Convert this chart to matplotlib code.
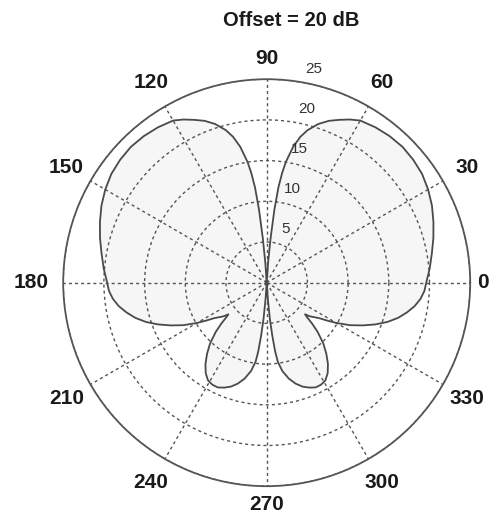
import numpy as np
import matplotlib
matplotlib.use("Agg")
import matplotlib.pyplot as plt

plt.rcParams['font.family'] = ['Liberation Sans', 'DejaVu Sans']

# Right half of the pattern (angles in degrees, -90..90), values in dB + offset
half_angles = [-90, -87, -86, -85, -84, -83, -82, -80, -77, -74, -71, -68, -65,
               -62, -59, -56, -53, -50, -47, -44, -42, -40.5, -39.5, -38, -36,
               -34, -32, -30, -27, -24, -21, -18, -15, -12, -9, -6, -3, 0, 5,
               10, 15, 20, 25, 30, 35, 40, 45, 50, 55, 60, 63, 66, 69, 72, 75,
               77, 79, 81, 82, 83, 84, 85, 86, 87, 90]
half_values = [0, 0, 2.0, 4.5, 6.5, 8.5, 9.8, 11.0, 12.1, 12.9, 13.5, 13.9, 14.2,
               14.2, 14.0, 13.4, 12.5, 11.4, 10.2, 8.7, 7.5, 6.5, 6.1, 6.7, 7.2,
               7.8, 8.8, 9.9, 11.5, 12.9, 14.3, 15.6, 16.7, 17.6, 18.4, 19.0, 19.4,
               19.6, 20.1, 20.6, 21.2, 21.8, 22.4, 22.9, 23.3, 23.5, 23.6, 23.5,
               23.3, 23.0, 22.5, 21.9, 21.3, 20.5, 19.4, 18.4, 17.0, 15.0, 13.6,
               11.8, 9.0, 5.5, 2.5, 0, 0]

angle_labels = ['0', '30', '60', '90', '120', '150', '180', '210', '240', '270', '300', '330']
angle_ticks = [0, 30, 60, 90, 120, 150, 180, 210, 240, 270, 300, 330]
radial_ticks = [5, 10, 15, 20, 25]
title_text = 'Offset = 20 dB'

# full closed curve: right half then mirrored left half
ha = np.array(half_angles, dtype=float)
hv = np.array(half_values, dtype=float)
theta_deg = np.concatenate([ha, 180 - ha[::-1]])
rvals = np.concatenate([hv, hv[::-1]])
theta = np.deg2rad(theta_deg)

W, H = 496, 516
fig = plt.figure(figsize=(W / 100, H / 100), dpi=100)
cx, cy, R = 266.7, 282.7, 203.5
ax = fig.add_axes([(cx - R) / W, (H - cy - R) / H, 2 * R / W, 2 * R / H],
                  projection='polar')
ax.set_ylim(0, 25)

gcol = '#555555'
ax.fill(theta, rvals, color='#f6f6f6', zorder=1)
ax.plot(theta, rvals, color='#4a4a4a', lw=1.3, zorder=3)

# grids
ax.set_thetagrids(angle_ticks, labels=[''] * len(angle_ticks))
ax.set_rgrids([5, 10, 15, 20, 25], labels=[''] * 5)
ax.grid(True, color=gcol, linestyle=(0, (2.2, 2.2)), linewidth=1.0)
ax.spines['polar'].set_color('#555555')
ax.spines['polar'].set_linewidth(1.3)
ax.tick_params(length=0)

# angle labels
label_r = {0: 26.6, 90: 27.6, 180: 28.9, 270: 27.3}
for a, lab in zip(angle_ticks, angle_labels):
    r = label_r.get(a, 28.4)
    ax.text(np.deg2rad(a), r, lab, ha='center', va='center', fontsize=15,
            fontweight='bold', color='#1a1a1a', clip_on=False)

# radial labels
for v in radial_ticks:
    ax.annotate(str(v), xy=(np.deg2rad(80), v), xytext=(8.5, 9.5),
                textcoords='offset points', ha='center', va='center',
                fontsize=11, color='#333333', annotation_clip=False)

fig.text(291 / W, 1 - 20 / H, title_text, ha='center', va='center',
         fontsize=14.5, fontweight='bold', color='#1a1a1a')

fig.savefig('out.png', dpi=100, facecolor='white')
